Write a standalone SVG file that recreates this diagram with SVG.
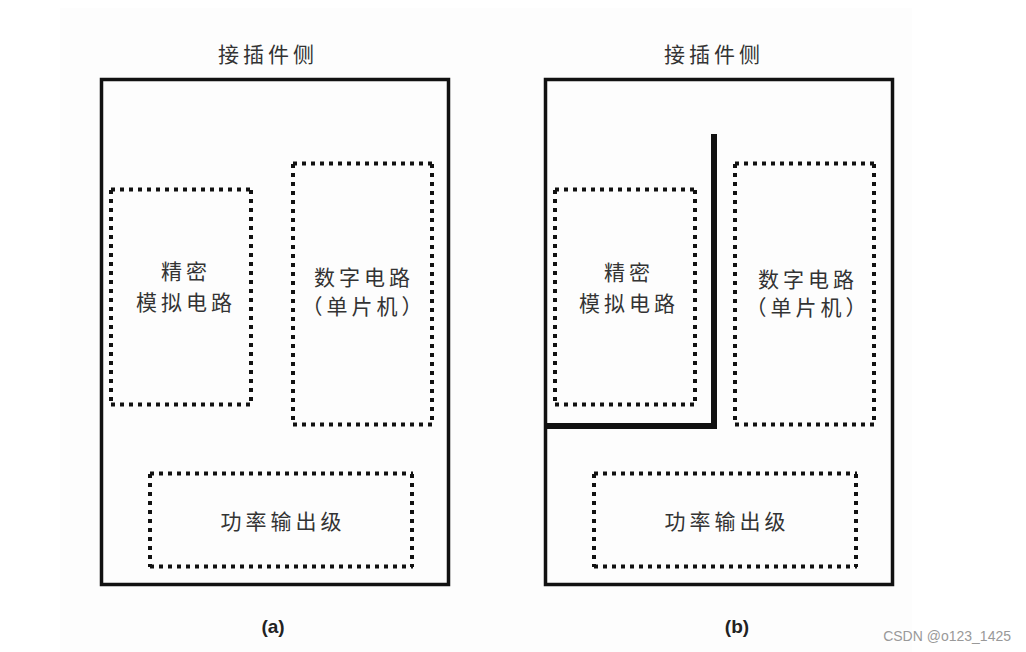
<svg xmlns="http://www.w3.org/2000/svg" width="1026" height="652" viewBox="0 0 1026 652">
<style>
.bg{fill:#ffffff}
.outer{fill:none;stroke:#111;stroke-width:3.5}
.dot{fill:none;stroke:#111;stroke-width:4;stroke-dasharray:4 5}
.wall{fill:none;stroke:#111;stroke-width:6;stroke-linejoin:miter}
.t{font-family:"Noto Sans CJK SC","Noto Sans",sans-serif;font-size:21px;fill:#333;text-anchor:middle;dominant-baseline:central;letter-spacing:4px}
.lab{font-family:"Liberation Sans",Arial,sans-serif;font-size:19px;font-weight:bold;fill:#222;text-anchor:middle}
.wm{font-family:"Liberation Sans",Arial,sans-serif;font-size:14px;fill:#999;text-anchor:end}
</style>
<rect class="bg" x="0" y="0" width="1026" height="652"/>
<rect x="60" y="8" width="852" height="644" fill="#fdfdfd"/>

<g id="panel-a">
  <text class="t" x="268" y="53">接插件侧</text>
  <rect class="outer" x="101.5" y="79.5" width="347" height="505"/>
  <g id="a-analog">
    <path class="dot" d="M111 189.5 H252 M111 404.5 H252 M111 190 V405 M251 190 V405"/>
    <text class="t" x="186" y="270">精密</text>
    <text class="t" x="186" y="301">模拟电路</text>
  </g>
  <g id="a-digital">
    <path class="dot" d="M293 163.5 H433 M293 424.5 H433 M293 164 V425 M432 164 V425"/>
    <text class="t" x="364" y="276">数字电路</text>
    <text class="t" x="364" y="305">（单片机）</text>
  </g>
  <g id="a-power">
    <path class="dot" d="M150 473.5 H413 M150 566.5 H413 M150 474 V567 M412 474 V567"/>
    <text class="t" x="283" y="520">功率输出级</text>
  </g>
  <text class="lab" x="273" y="633">(a)</text>
</g>

<g id="panel-b">
  <text class="t" x="714" y="53">接插件侧</text>
  <rect class="outer" x="545.5" y="79.5" width="347" height="505"/>
  <g id="b-analog">
    <path class="dot" d="M555 189.5 H696 M555 404.5 H696 M555 190 V405 M695 190 V405"/>
    <text class="t" x="629" y="271">精密</text>
    <text class="t" x="629" y="302">模拟电路</text>
  </g>
  <g id="b-digital">
    <path class="dot" d="M735 163.5 H875 M735 424.5 H875 M735 164 V425 M874 164 V425"/>
    <text class="t" x="808" y="278">数字电路</text>
    <text class="t" x="808" y="306">（单片机）</text>
  </g>
  <g id="b-power">
    <path class="dot" d="M594 473.5 H857 M594 566.5 H857 M594 474 V567 M856 474 V567"/>
    <text class="t" x="727" y="520">功率输出级</text>
  </g>
  <g id="connectors">
    <path class="wall" d="M714 134 V426 H546"/>
  </g>
  <text class="lab" x="737" y="633">(b)</text>
</g>

<text class="wm" x="1011" y="641">CSDN @o123_1425</text>
</svg>
